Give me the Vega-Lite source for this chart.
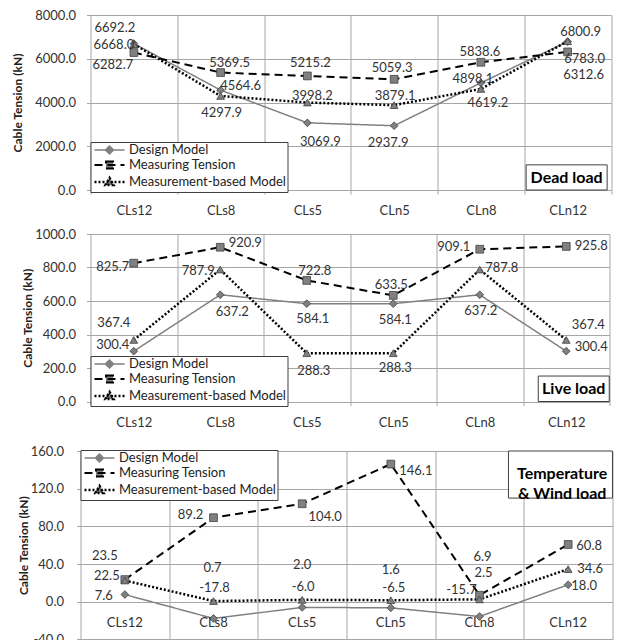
{
  "$schema": "https://vega.github.io/schema/vega-lite/v6.json",
  "background": "white",
  "padding": {"left": 11.5, "top": 9, "right": 0, "bottom": 0},
  "datasets": {
    "dead": [
      {"x": "CLs12", "series": "Design Model", "v": 6692.2},
      {"x": "CLs8", "series": "Design Model", "v": 4564.6},
      {"x": "CLs5", "series": "Design Model", "v": 3069.9},
      {"x": "CLn5", "series": "Design Model", "v": 2937.9},
      {"x": "CLn8", "series": "Design Model", "v": 4898.1},
      {"x": "CLn12", "series": "Design Model", "v": 6783.0},
      {"x": "CLs12", "series": "Measuring Tension", "v": 6282.7},
      {"x": "CLs8", "series": "Measuring Tension", "v": 5369.5},
      {"x": "CLs5", "series": "Measuring Tension", "v": 5215.2},
      {"x": "CLn5", "series": "Measuring Tension", "v": 5059.3},
      {"x": "CLn8", "series": "Measuring Tension", "v": 5838.6},
      {"x": "CLn12", "series": "Measuring Tension", "v": 6312.6},
      {"x": "CLs12", "series": "Measurement-based Model", "v": 6668.0},
      {"x": "CLs8", "series": "Measurement-based Model", "v": 4297.9},
      {"x": "CLs5", "series": "Measurement-based Model", "v": 3998.2},
      {"x": "CLn5", "series": "Measurement-based Model", "v": 3879.1},
      {"x": "CLn8", "series": "Measurement-based Model", "v": 4619.2},
      {"x": "CLn12", "series": "Measurement-based Model", "v": 6800.9}
    ],
    "live": [
      {"x": "CLs12", "series": "Design Model", "v": 300.4},
      {"x": "CLs8", "series": "Design Model", "v": 637.2},
      {"x": "CLs5", "series": "Design Model", "v": 584.1},
      {"x": "CLn5", "series": "Design Model", "v": 584.1},
      {"x": "CLn8", "series": "Design Model", "v": 637.2},
      {"x": "CLn12", "series": "Design Model", "v": 300.4},
      {"x": "CLs12", "series": "Measuring Tension", "v": 825.7},
      {"x": "CLs8", "series": "Measuring Tension", "v": 920.9},
      {"x": "CLs5", "series": "Measuring Tension", "v": 722.8},
      {"x": "CLn5", "series": "Measuring Tension", "v": 633.5},
      {"x": "CLn8", "series": "Measuring Tension", "v": 909.1},
      {"x": "CLn12", "series": "Measuring Tension", "v": 925.8},
      {"x": "CLs12", "series": "Measurement-based Model", "v": 367.4},
      {"x": "CLs8", "series": "Measurement-based Model", "v": 787.9},
      {"x": "CLs5", "series": "Measurement-based Model", "v": 288.3},
      {"x": "CLn5", "series": "Measurement-based Model", "v": 288.3},
      {"x": "CLn8", "series": "Measurement-based Model", "v": 787.8},
      {"x": "CLn12", "series": "Measurement-based Model", "v": 367.4}
    ],
    "temp": [
      {"x": "CLs12", "series": "Design Model", "v": 7.6},
      {"x": "CLs8", "series": "Design Model", "v": -17.8},
      {"x": "CLs5", "series": "Design Model", "v": -6.0},
      {"x": "CLn5", "series": "Design Model", "v": -6.5},
      {"x": "CLn8", "series": "Design Model", "v": -15.7},
      {"x": "CLn12", "series": "Design Model", "v": 18.0},
      {"x": "CLs12", "series": "Measuring Tension", "v": 23.5},
      {"x": "CLs8", "series": "Measuring Tension", "v": 89.2},
      {"x": "CLs5", "series": "Measuring Tension", "v": 104.0},
      {"x": "CLn5", "series": "Measuring Tension", "v": 146.1},
      {"x": "CLn8", "series": "Measuring Tension", "v": 6.9},
      {"x": "CLn12", "series": "Measuring Tension", "v": 60.8},
      {"x": "CLs12", "series": "Measurement-based Model", "v": 22.5},
      {"x": "CLs8", "series": "Measurement-based Model", "v": 0.7},
      {"x": "CLs5", "series": "Measurement-based Model", "v": 2.0},
      {"x": "CLn5", "series": "Measurement-based Model", "v": 1.6},
      {"x": "CLn8", "series": "Measurement-based Model", "v": 2.5},
      {"x": "CLn12", "series": "Measurement-based Model", "v": 34.6}
    ]
  },
  "columns": 1,
  "align": "none",
  "bounds": "full",
  "spacing": 11,
  "resolve": {
    "scale": {"x": "independent", "y": "independent", "shape": "independent", "stroke": "independent", "strokeDash": "independent", "strokeWidth": "independent"},
    "legend": {"shape": "independent", "stroke": "independent", "strokeDash": "independent", "strokeWidth": "independent"}
  },
  "concat": [
    {
      "width": 520.5,
      "height": 175,
      "data": {"name": "dead"},
      "encoding": {
        "x": {"field": "x", "type": "nominal", "sort": null,
          "scale": {"domain": ["CLs12", "CLs8", "CLs5", "CLn5", "CLn8", "CLn12"], "paddingInner": 0, "paddingOuter": 0},
          "axis": {"title": null, "tickBand": "extent", "grid": true, "ticks": true, "tickSize": 4, "labelPadding": 10, "labelAngle": 0}},
        "y": {"field": "v", "type": "quantitative",
          "scale": {"domain": [0, 8000], "nice": false, "zero": false},
          "axis": {"title": "Cable Tension (kN)", "values": [0, 2000, 4000, 6000, 8000], "format": ".1f", "grid": true, "ticks": true, "tickSize": 4, "labelPadding": 11, "titlePadding": 10, "titleFontSize": 12, "titleFontWeight": "bold", "titleColor": "#222"}}
      },
      "layer": [
        {"mark": {"type": "line"},
          "encoding": {
            "stroke": {"field": "series", "type": "nominal", "scale": {"domain": ["Design Model", "Measuring Tension", "Measurement-based Model"], "range": ["#808080", "#000000", "#000000"]}},
            "strokeDash": {"field": "series", "type": "nominal", "scale": {"domain": ["Design Model", "Measuring Tension", "Measurement-based Model"], "range": [[1, 0], [8, 5], [2, 2]]}},
            "strokeWidth": {"field": "series", "type": "nominal", "scale": {"domain": ["Design Model", "Measuring Tension", "Measurement-based Model"], "range": [1.5, 2.5, 2]}},
            "order": {"value": null}
          }},
        {"mark": {"type": "point", "filled": true, "fill": "#808080", "opacity": 0, "size": 64},
          "encoding": {
            "shape": {"field": "series", "type": "nominal",
              "scale": {"domain": ["Design Model", "Measuring Tension", "Measurement-based Model"], "range": ["M-1,0H6.5M2.75,-1L3.75,0L2.75,1L1.75,0Z", "M-1,0H6.5M1.875,-0.875H3.625V0.875H1.875Z", "M-1,0H6.5M2.75,-1L3.75,0.75H1.75Z"]},
              "legend": {"orient": "none", "legendX": 0, "legendY": 127, "title": null, "direction": "vertical",
                "strokeColor": "#404040", "fillColor": "white", "padding": 1.5, "labelFontSize": 13, "labelColor": "#222", "labelOffset": 24, "labelLimit": 300, "rowPadding": 0, "symbolSize": 64, "symbolOpacity": 1, "symbolFillColor": "#808080"}},
            "stroke": {"field": "series", "type": "nominal", "scale": {"domain": ["Design Model", "Measuring Tension", "Measurement-based Model"], "range": ["#808080", "#000000", "#000000"]}},
            "strokeDash": {"field": "series", "type": "nominal", "scale": {"domain": ["Design Model", "Measuring Tension", "Measurement-based Model"], "range": [[1, 0], [8, 5], [2, 2]]}},
            "strokeWidth": {"field": "series", "type": "nominal", "scale": {"domain": ["Design Model", "Measuring Tension", "Measurement-based Model"], "range": [1.5, 2.5, 2]}}
          }},
        {"transform": [{"filter": "datum.series==='Design Model'"}],
          "mark": {"type": "point", "shape": "diamond", "filled": true, "size": 60, "fill": "#808080", "stroke": "#404040", "strokeWidth": 0.8, "opacity": 1}},
        {"transform": [{"filter": "datum.series==='Measuring Tension'"}],
          "mark": {"type": "point", "shape": "square", "filled": true, "size": 60, "fill": "#808080", "stroke": "#404040", "strokeWidth": 0.8, "opacity": 1}},
        {"transform": [{"filter": "datum.series==='Measurement-based Model'"}],
          "mark": {"type": "point", "shape": "triangle-up", "filled": true, "size": 60, "fill": "#808080", "stroke": "#404040", "strokeWidth": 0.8, "opacity": 1}},
        {"transform": [{"filter": "datum.series==='Design Model'"}],
          "mark": {"type": "text", "fontSize": 13, "color": "#333",
            "dx": {"expr": "{CLs12:-19,CLs8:20,CLs5:13,CLn5:-6,CLn8:-8,CLn12:17}[datum.x]"},
            "dy": {"expr": "{CLs12:-15.5,CLs8:-4,CLs5:19,CLn5:17,CLn8:-3.5,CLn12:17.5}[datum.x]"}},
          "encoding": {"text": {"field": "v", "type": "quantitative", "format": ".1f"}}},
        {"transform": [{"filter": "datum.series==='Measuring Tension'"}],
          "mark": {"type": "text", "fontSize": 13, "color": "#333",
            "dx": {"expr": "{CLs12:-21,CLs8:9,CLs5:3,CLn5:-2,CLn8:-1,CLn12:16}[datum.x]"},
            "dy": {"expr": "{CLs12:12.6,CLs8:-10,CLs5:-12.6,CLn5:-11,CLn8:-10,CLn12:23}[datum.x]"}},
          "encoding": {"text": {"field": "v", "type": "quantitative", "format": ".1f"}}},
        {"transform": [{"filter": "datum.series==='Measurement-based Model'"}],
          "mark": {"type": "text", "fontSize": 13, "color": "#333",
            "dx": {"expr": "{CLs12:-20,CLs8:1,CLs5:5,CLn5:1,CLn8:7,CLn12:13}[datum.x]"},
            "dy": {"expr": "{CLs12:1,CLs8:17,CLs5:-7,CLn5:-9,CLn8:14,CLn12:-9}[datum.x]"}},
          "encoding": {"text": {"field": "v", "type": "quantitative", "format": ".1f"}}},
        {"transform": [{"filter": "datum.series==='Design Model' && datum.x==='CLn12'"}],
          "mark": {"type": "rect", "width": 81, "xOffset": -1, "fill": "white", "stroke": "#404040", "strokeWidth": 1},
          "encoding": {"x": {"datum": "CLn12", "type": "nominal"}, "y": {"datum": 0, "type": "quantitative"}, "y2": {"datum": 1150}}},
        {"transform": [{"filter": "datum.series==='Design Model' && datum.x==='CLn12'"}],
          "mark": {"type": "text", "text": "Dead load", "fontSize": 16, "fontWeight": "bold", "color": "#000", "xOffset": -1},
          "encoding": {"x": {"datum": "CLn12", "type": "nominal"}, "y": {"datum": 571, "type": "quantitative"}}}
      ]
    },
    {
      "width": 519,
      "height": 167.5,
      "data": {"name": "live"},
      "encoding": {
        "x": {"field": "x", "type": "nominal", "sort": null,
          "scale": {"domain": ["CLs12", "CLs8", "CLs5", "CLn5", "CLn8", "CLn12"], "paddingInner": 0, "paddingOuter": 0},
          "axis": {"title": "\u00a0", "titleFontSize": 2, "titlePadding": 2, "tickBand": "extent", "grid": true, "ticks": true, "tickSize": 4, "labelPadding": 11, "labelAngle": 0}},
        "y": {"field": "v", "type": "quantitative",
          "scale": {"domain": [0, 1000], "nice": false, "zero": false},
          "axis": {"title": "Cable Tension (kN)", "values": [0, 200, 400, 600, 800, 1000], "format": ".1f", "grid": true, "ticks": true, "tickSize": 4, "labelPadding": 11, "titlePadding": 0, "titleFontSize": 12, "titleFontWeight": "bold", "titleColor": "#222"}}
      },
      "layer": [
        {"mark": {"type": "line"},
          "encoding": {
            "stroke": {"field": "series", "type": "nominal", "scale": {"domain": ["Design Model", "Measuring Tension", "Measurement-based Model"], "range": ["#808080", "#000000", "#000000"]}},
            "strokeDash": {"field": "series", "type": "nominal", "scale": {"domain": ["Design Model", "Measuring Tension", "Measurement-based Model"], "range": [[1, 0], [8, 5], [2, 2]]}},
            "strokeWidth": {"field": "series", "type": "nominal", "scale": {"domain": ["Design Model", "Measuring Tension", "Measurement-based Model"], "range": [1.5, 2.5, 2]}},
            "order": {"value": null}
          }},
        {"mark": {"type": "point", "filled": true, "fill": "#808080", "opacity": 0, "size": 64},
          "encoding": {
            "shape": {"field": "series", "type": "nominal",
              "scale": {"domain": ["Design Model", "Measuring Tension", "Measurement-based Model"], "range": ["M-1,0H6.5M2.75,-1L3.75,0L2.75,1L1.75,0Z", "M-1,0H6.5M1.875,-0.875H3.625V0.875H1.875Z", "M-1,0H6.5M2.75,-1L3.75,0.75H1.75Z"]},
              "legend": {"orient": "none", "legendX": 0, "legendY": 122, "title": null, "direction": "vertical",
                "strokeColor": "#404040", "fillColor": "white", "padding": 1.5, "labelFontSize": 13, "labelColor": "#222", "labelOffset": 24, "labelLimit": 300, "rowPadding": 0, "symbolSize": 64, "symbolOpacity": 1, "symbolFillColor": "#808080"}},
            "stroke": {"field": "series", "type": "nominal", "scale": {"domain": ["Design Model", "Measuring Tension", "Measurement-based Model"], "range": ["#808080", "#000000", "#000000"]}},
            "strokeDash": {"field": "series", "type": "nominal", "scale": {"domain": ["Design Model", "Measuring Tension", "Measurement-based Model"], "range": [[1, 0], [8, 5], [2, 2]]}},
            "strokeWidth": {"field": "series", "type": "nominal", "scale": {"domain": ["Design Model", "Measuring Tension", "Measurement-based Model"], "range": [1.5, 2.5, 2]}}
          }},
        {"transform": [{"filter": "datum.series==='Design Model'"}],
          "mark": {"type": "point", "shape": "diamond", "filled": true, "size": 60, "fill": "#808080", "stroke": "#404040", "strokeWidth": 0.8, "opacity": 1}},
        {"transform": [{"filter": "datum.series==='Measuring Tension'"}],
          "mark": {"type": "point", "shape": "square", "filled": true, "size": 60, "fill": "#808080", "stroke": "#404040", "strokeWidth": 0.8, "opacity": 1}},
        {"transform": [{"filter": "datum.series==='Measurement-based Model'"}],
          "mark": {"type": "point", "shape": "triangle-up", "filled": true, "size": 60, "fill": "#808080", "stroke": "#404040", "strokeWidth": 0.8, "opacity": 1}},
        {"transform": [{"filter": "datum.series==='Design Model'"}],
          "mark": {"type": "text", "fontSize": 13, "color": "#333",
            "dx": {"expr": "{CLs12:-21,CLs8:12,CLs5:6,CLn5:2,CLn8:1,CLn12:25}[datum.x]"},
            "dy": {"expr": "{CLs12:-6.6,CLs8:17,CLs5:15,CLn5:16,CLn8:16,CLn12:-4}[datum.x]"}},
          "encoding": {"text": {"field": "v", "type": "quantitative", "format": ".1f"}}},
        {"transform": [{"filter": "datum.series==='Measuring Tension'"}],
          "mark": {"type": "text", "fontSize": 13, "color": "#333",
            "dx": {"expr": "{CLs12:-21,CLs8:25,CLs5:8,CLn5:-2,CLn8:-26,CLn12:25}[datum.x]"},
            "dy": {"expr": "{CLs12:3.5,CLs8:-4.6,CLs5:-9,CLn5:-10,CLn8:-2.5,CLn12:0}[datum.x]"}},
          "encoding": {"text": {"field": "v", "type": "quantitative", "format": ".1f"}}},
        {"transform": [{"filter": "datum.series==='Measurement-based Model'"}],
          "mark": {"type": "text", "fontSize": 13, "color": "#333",
            "dx": {"expr": "{CLs12:-20,CLs8:-22,CLs5:7,CLn5:2,CLn8:22,CLn12:22}[datum.x]"},
            "dy": {"expr": "{CLs12:-17,CLs8:1.5,CLs5:18,CLn5:15,CLn8:-2,CLn12:-15}[datum.x]"}},
          "encoding": {"text": {"field": "v", "type": "quantitative", "format": ".1f"}}},
        {"transform": [{"filter": "datum.series==='Design Model' && datum.x==='CLn12'"}],
          "mark": {"type": "rect", "width": 71, "xOffset": 7.5, "fill": "white", "stroke": "#404040", "strokeWidth": 1},
          "encoding": {"x": {"datum": "CLn12", "type": "nominal"}, "y": {"datum": 0, "type": "quantitative"}, "y2": {"datum": 152}}},
        {"transform": [{"filter": "datum.series==='Design Model' && datum.x==='CLn12'"}],
          "mark": {"type": "text", "text": "Live load", "fontSize": 16, "fontWeight": "bold", "color": "#000", "xOffset": 7.5},
          "encoding": {"x": {"datum": "CLn12", "type": "nominal"}, "y": {"datum": 75, "type": "quantitative"}}}
      ]
    },
    {
      "width": 522,
      "height": 188.4,
      "data": {"name": "temp"},
      "encoding": {
        "x": {"field": "x", "type": "nominal", "sort": null,
          "scale": {"domain": ["CLs12", "CLs8", "CLs5", "CLn5", "CLn8", "CLn12"], "paddingInner": 0, "paddingOuter": 0, "range": [-10, 522]},
          "axis": {"title": null, "tickBand": "extent", "grid": true, "ticks": false, "labels": false}},
        "y": {"field": "v", "type": "quantitative",
          "scale": {"domain": [-40, 160], "nice": false, "zero": false},
          "axis": {"title": "Cable Tension (kN)", "offset": 10, "values": [-40, 0, 40, 80, 120, 160], "format": ".1f", "grid": true, "ticks": true, "tickSize": 4, "labelPadding": 13, "titlePadding": 0, "titleFontSize": 12, "titleFontWeight": "bold", "titleColor": "#222"}}
      },
      "layer": [
        {"mark": {"type": "line"},
          "encoding": {
            "stroke": {"field": "series", "type": "nominal", "scale": {"domain": ["Design Model", "Measuring Tension", "Measurement-based Model"], "range": ["#808080", "#000000", "#000000"]}},
            "strokeDash": {"field": "series", "type": "nominal", "scale": {"domain": ["Design Model", "Measuring Tension", "Measurement-based Model"], "range": [[1, 0], [8, 5], [2, 2]]}},
            "strokeWidth": {"field": "series", "type": "nominal", "scale": {"domain": ["Design Model", "Measuring Tension", "Measurement-based Model"], "range": [1.5, 2.5, 2]}},
            "order": {"value": null}
          }},
        {"mark": {"type": "point", "filled": true, "fill": "#808080", "opacity": 0, "size": 64},
          "encoding": {
            "shape": {"field": "series", "type": "nominal",
              "scale": {"domain": ["Design Model", "Measuring Tension", "Measurement-based Model"], "range": ["M-1,0H6.5M2.75,-1L3.75,0L2.75,1L1.75,0Z", "M-1,0H6.5M1.875,-0.875H3.625V0.875H1.875Z", "M-1,0H6.5M2.75,-1L3.75,0.75H1.75Z"]},
              "legend": {"orient": "none", "legendX": -10, "legendY": -1, "title": null, "direction": "vertical",
                "strokeColor": "#404040", "fillColor": "white", "padding": 1.5, "labelFontSize": 13, "labelColor": "#222", "labelOffset": 24, "labelLimit": 300, "rowPadding": 0, "symbolSize": 64, "symbolOpacity": 1, "symbolFillColor": "#808080"}},
            "stroke": {"field": "series", "type": "nominal", "scale": {"domain": ["Design Model", "Measuring Tension", "Measurement-based Model"], "range": ["#808080", "#000000", "#000000"]}},
            "strokeDash": {"field": "series", "type": "nominal", "scale": {"domain": ["Design Model", "Measuring Tension", "Measurement-based Model"], "range": [[1, 0], [8, 5], [2, 2]]}},
            "strokeWidth": {"field": "series", "type": "nominal", "scale": {"domain": ["Design Model", "Measuring Tension", "Measurement-based Model"], "range": [1.5, 2.5, 2]}}
          }},
        {"transform": [{"filter": "datum.series==='Design Model'"}],
          "mark": {"type": "point", "shape": "diamond", "filled": true, "size": 60, "fill": "#808080", "stroke": "#404040", "strokeWidth": 0.8, "opacity": 1}},
        {"transform": [{"filter": "datum.series==='Measuring Tension'"}],
          "mark": {"type": "point", "shape": "square", "filled": true, "size": 60, "fill": "#808080", "stroke": "#404040", "strokeWidth": 0.8, "opacity": 1}},
        {"transform": [{"filter": "datum.series==='Measurement-based Model'"}],
          "mark": {"type": "point", "shape": "triangle-up", "filled": true, "size": 60, "fill": "#808080", "stroke": "#404040", "strokeWidth": 0.8, "opacity": 1}},
        {"transform": [{"filter": "datum.series==='Design Model'"}],
          "mark": {"type": "text", "fontSize": 13, "color": "#333",
            "dx": {"expr": "{CLs12:-21,CLs8:1,CLs5:1,CLn5:3,CLn8:-18,CLn12:16}[datum.x]"},
            "dy": {"expr": "{CLs12:1,CLs8:-30,CLs5:-20,CLn5:-19.5,CLn8:-26.5,CLn12:1}[datum.x]"}},
          "encoding": {"text": {"field": "v", "type": "quantitative", "format": ".1f"}}},
        {"transform": [{"filter": "datum.series==='Measuring Tension'"}],
          "mark": {"type": "text", "fontSize": 13, "color": "#333",
            "dx": {"expr": "{CLs12:-20,CLs8:-23,CLs5:23,CLn5:25,CLn8:3,CLn12:21}[datum.x]"},
            "dy": {"expr": "{CLs12:-24,CLs8:-3,CLs5:13,CLn5:7,CLn8:-38.5,CLn12:1.6}[datum.x]"}},
          "encoding": {"text": {"field": "v", "type": "quantitative", "format": ".1f"}}},
        {"transform": [{"filter": "datum.series==='Measurement-based Model'"}],
          "mark": {"type": "text", "fontSize": 13, "color": "#333",
            "dx": {"expr": "{CLs12:-18,CLs8:-1,CLs5:0,CLn5:0,CLn8:4,CLn12:22}[datum.x]"},
            "dy": {"expr": "{CLs12:-4.5,CLs8:-33,CLs5:-34.5,CLn5:-30,CLn8:-26.6,CLn12:0}[datum.x]"}},
          "encoding": {"text": {"field": "v", "type": "quantitative", "format": ".1f"}}},
        {"transform": [{"filter": "datum.series==='Design Model'"}],
          "mark": {"type": "text", "fontSize": 13, "color": "#333", "dy": 21.6},
          "encoding": {"y": {"datum": 0, "type": "quantitative"}, "text": {"field": "x", "type": "nominal"}}},
        {"transform": [{"filter": "datum.series==='Design Model' && datum.x==='CLn12'"}],
          "mark": {"type": "rect", "width": 104, "xOffset": -7.7, "fill": "white", "stroke": "#404040", "strokeWidth": 1},
          "encoding": {"x": {"datum": "CLn12", "type": "nominal"}, "y": {"datum": 110, "type": "quantitative"}, "y2": {"datum": 160}}},
        {"transform": [{"filter": "datum.series==='Design Model' && datum.x==='CLn12'"}],
          "mark": {"type": "text", "text": "Temperature\n& Wind load", "lineBreak": "\n", "lineHeight": 20, "fontSize": 16, "fontWeight": "bold", "color": "#000", "xOffset": -6},
          "encoding": {"x": {"datum": "CLn12", "type": "nominal"}, "y": {"datum": 135.6, "type": "quantitative"}}}
      ]
    }
  ],
  "config": {
    "font": "Lato",
    "view": {"stroke": null},
    "locale": {"number": {"decimal": ".", "thousands": ",", "grouping": [3], "currency": ["$", ""], "minus": "-"}},
    "axis": {"labelFont": "Lato", "labelFontSize": 13, "labelColor": "#333", "titleFont": "Lato", "gridColor": "#a6a6a6", "tickColor": "#a6a6a6", "domain": false},
    "legend": {"labelFont": "Lato"}
  }
}
